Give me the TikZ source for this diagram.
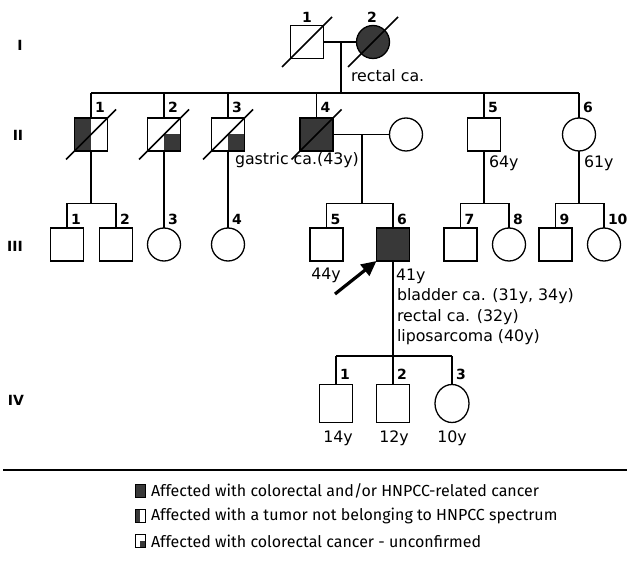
\documentclass[tikz,border=0pt]{standalone}
\usepackage{fontspec}
\setmainfont{DejaVu Sans}
\newfontfamily\legfont{Fira Sans}
\usetikzlibrary{arrows.meta,calc,shapes.geometric}
\begin{document}
\begin{tikzpicture}[x=1pt,y=-1pt,
  every node/.style={inner sep=0pt,outer sep=0pt},
  aff/.style={fill=black!78},
  male/.style={draw,line width=1.3pt,rectangle,minimum width=33pt,minimum height=33pt},
  female/.style={draw,line width=1.3pt,circle,minimum size=33pt},
  malev/.style={draw,line width=1.3pt,rectangle,minimum width=33pt,minimum height=38pt},
  femalev/.style={draw,line width=1.3pt,ellipse,minimum width=34pt,minimum height=38pt},
  lefthalf/.style={path picture={\fill[black!78] (path picture bounding box.north west) rectangle (path picture bounding box.south);}},
  quarter/.style={path picture={\fill[black!78] (path picture bounding box.center) rectangle (path picture bounding box.south east);}},
  conn/.style={line width=1.3pt},
  slash/.style={line width=1.5pt},
  num/.style={font=\bfseries\fontsize{14}{14}\selectfont,anchor=west},
  gen/.style={font=\bfseries\fontsize{14}{14}\selectfont},
  txt/.style={font=\fontsize{15.8}{15.8}\selectfont},
  leg/.style={font=\legfont\fontsize{16}{16}\selectfont,anchor=west},
  legsym/.style={draw,line width=1pt,minimum width=10pt,minimum height=13pt}
]
\useasboundingbox (0,0) rectangle (627,561);

% generation labels
\node[gen] (gI) at (20,45) {I};
\node[gen] (gII) at (18,135) {II};
\node[gen] (gIII) at (15,246) {III};
\node[gen] (gIV) at (16,400) {IV};

% generation I
\node[male] (I1) at (307,42) {};
\node[female,aff] (I2) at (373,42) {};
\node[num,anchor=center] (nI1) at (307,17) {1};
\node[num,anchor=center] (nI2) at (372,17) {2};
\draw[conn] (I1) -- (I2);
\coordinate (mI) at (341,42);
\coordinate (sI) at (341,93);
\draw[conn] (mI) -- (sI);
\node[txt,anchor=west] (tI2) at (351,76) {rectal ca.};

% generation II
\node[male,lefthalf] (II1) at (91,134.5) {};
\node[male,quarter] (II2) at (164,134.5) {};
\node[male,quarter] (II3) at (228,134.5) {};
\node[male,aff] (II4) at (316.5,134.5) {};
\node[female] (IIs) at (406,134.5) {};
\node[male] (II5) at (484,134.5) {};
\node[female] (II6) at (579,134.5) {};

\draw[conn] (II1.north |- sI) -- (II6.north |- sI);
\foreach \n in {II1,II2,II3,II4,II5,II6} \draw[conn] (\n.north) -- (\n.north |- sI);

\node[num] (nII1) at ($(II1.north)+(4,-11)$) {1};
\node[num] (nII2) at ($(II2.north)+(4,-11)$) {2};
\node[num] (nII3) at ($(II3.north)+(4,-11)$) {3};
\node[num] (nII4) at ($(II4.north)+(4,-11)$) {4};
\node[num] (nII5) at ($(II5.north)+(4,-11)$) {5};
\node[num] (nII6) at ($(II6.north)+(4,-11)$) {6};

\draw[conn] (II4) -- (IIs);
\coordinate (mII) at (362,134.5);
\node[txt,anchor=west] (tII4) at (235,160) {gastric ca.(43y)};
\node[txt,anchor=west] (tII5) at (489,163) {64y};
\node[txt,anchor=west] (tII6) at (584,163) {61y};

% slashes (deceased)
\foreach \n in {I1,I2,II1,II2,II3,II4}
  \draw[slash] ($(\n.center)+(-25,25)$) -- ($(\n.center)+(25,-25)$);

% generation III
\coordinate (sIIIy) at (0,203.5);
\node[male] (III1) at (67,244.5) {};
\node[male] (III2) at (116,244.5) {};
\node[female] (III3) at (164,244.5) {};
\node[female] (III4) at (228,244.5) {};
\node[male] (III5) at (326.5,244.5) {};
\node[male,aff] (III6) at (393,244.5) {};
\node[male] (III7) at (460.5,244.5) {};
\node[female] (III8) at (509,244.5) {};
\node[male] (III9) at (555.5,244.5) {};
\node[female] (III10) at (604,244.5) {};

% descents
\draw[conn] (II1.south) -- (II1.south |- sIIIy);
\draw[conn] (III1.north |- sIIIy) -- (III2.north |- sIIIy);
\draw[conn] (III1.north) -- (III1.north |- sIIIy);
\draw[conn] (III2.north) -- (III2.north |- sIIIy);
\draw[conn] (II2.south) -- (III3.north);
\draw[conn] (II3.south) -- (III4.north);
\draw[conn] (mII) -- (mII |- sIIIy);
\draw[conn] (III5.north |- sIIIy) -- (III6.north |- sIIIy);
\draw[conn] (III5.north) -- (III5.north |- sIIIy);
\draw[conn] (III6.north) -- (III6.north |- sIIIy);
\draw[conn] (II5.south) -- (II5.south |- sIIIy);
\draw[conn] (III7.north |- sIIIy) -- (III8.north |- sIIIy);
\draw[conn] (III7.north) -- (III7.north |- sIIIy);
\draw[conn] (III8.north) -- (III8.north |- sIIIy);
\draw[conn] (II6.south) -- (II6.south |- sIIIy);
\draw[conn] (III9.north |- sIIIy) -- (III10.north |- sIIIy);
\draw[conn] (III9.north) -- (III9.north |- sIIIy);
\draw[conn] (III10.north) -- (III10.north |- sIIIy);

\foreach \n/\t in {III1/1,III2/2,III3/3,III4/4,III5/5,III6/6,III7/7,III8/8,III9/9,III10/10}
  \node[num] (n\n) at ($(\n.north)+(4,-9)$) {\t};

\node[txt] (tIII5) at (326,275) {44y};
\node[txt,anchor=west] (tIII6a) at (396,276) {41y};
\node[txt,anchor=west] (tIII6b) at (397,296.5) {bladder ca. (31y, 34y)};
\node[txt,anchor=west] (tIII6c) at (397,317) {rectal ca. (32y)};
\node[txt,anchor=west] (tIII6d) at (397,337.5) {liposarcoma (40y)};

% proband arrow
\coordinate (arrT) at (335,294);
\draw[line width=3.2pt,-{Triangle[length=15pt,width=14pt]}] (arrT) -- (III6.south west);

% generation IV
\coordinate (sIVy) at (0,356);
\node[malev] (IV1) at (336,403.5) {};
\node[malev] (IV2) at (393,403.5) {};
\node[femalev] (IV3) at (452,403.5) {};
\draw[conn] (III6.south) -- (III6.south |- sIVy);
\draw[conn] (IV1.north |- sIVy) -- (IV3.north |- sIVy);
\foreach \n in {IV1,IV2,IV3} \draw[conn] (\n.north) -- (\n.north |- sIVy);
\node[num] (nIV1) at ($(IV1.north)+(4,-10)$) {1};
\node[num] (nIV2) at ($(IV2.north)+(4,-10)$) {2};
\node[num] (nIV3) at ($(IV3.north)+(4,-10)$) {3};
\node[txt] (tIV1) at (338,438) {14y};
\node[txt] (tIV2) at (394,438) {12y};
\node[txt] (tIV3) at (452,438) {10y};

% rule
\coordinate (rL) at (3,470);
\coordinate (rR) at (627,470);
\draw[line width=2pt] (rL) -- (rR);

% legend
\node[legsym,aff] (L1) at (140,491) {};
\node[legsym,lefthalf] (L2) at (140,516) {};
\node[legsym,quarter] (L3) at (140,541) {};
\node[leg] (lt1) at (151,491) {Affected with colorectal and/or HNPCC-related cancer};
\node[leg] (lt2) at (151,516) {Affected with a tumor not belonging to HNPCC spectrum};
\node[leg] (lt3) at (151,541) {Affected with colorectal cancer - unconfirmed};
\end{tikzpicture}
\end{document}
